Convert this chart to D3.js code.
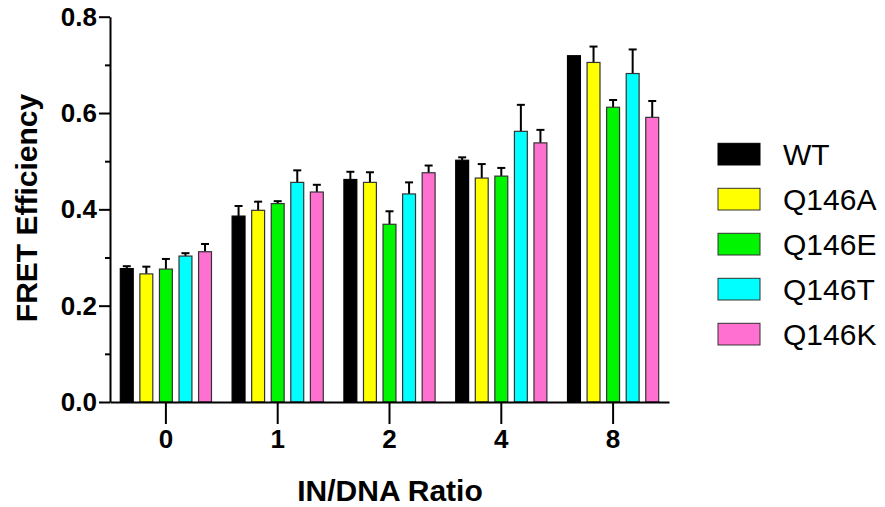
<!DOCTYPE html>
<html>
<head>
<meta charset="utf-8">
<script src="https://cdn.jsdelivr.net/npm/d3@7"></script>
<style>
  body { margin: 0; background: #fff; }
  svg { display: block; font-family: "Liberation Sans", Arial, sans-serif; }
</style>
</head>
<body>
<svg id="chart" width="885" height="507"></svg>
<script>
const ratios = ["0", "1", "2", "4", "8"];
const variants = ["WT", "Q146A", "Q146E", "Q146T", "Q146K"];
const colors = ["#000000", "#ffff00", "#00f500", "#00ffff", "#ff70d0"];

// mean FRET efficiency per variant, one value per IN/DNA ratio
const wtMean    = [0.277, 0.386, 0.462, 0.502, 0.719];
const q146aMean = [0.266, 0.398, 0.456, 0.465, 0.705];
const q146eMean = [0.276, 0.412, 0.369, 0.469, 0.612];
const q146tMean = [0.303, 0.456, 0.432, 0.562, 0.682];
const q146kMean = [0.312, 0.436, 0.476, 0.538, 0.591];

// upper error (SD) per variant
const wtErr    = [0.005, 0.021, 0.016, 0.006, 0.0];
const q146aErr = [0.015, 0.018, 0.021, 0.029, 0.033];
const q146eErr = [0.021, 0.005, 0.027, 0.017, 0.015];
const q146tErr = [0.006, 0.025, 0.024, 0.055, 0.050];
const q146kErr = [0.016, 0.015, 0.015, 0.027, 0.034];

const yMajor = [0, 0.2, 0.4, 0.6, 0.8];
const yMinor = [0.1, 0.3, 0.5, 0.7];

const means = [wtMean, q146aMean, q146eMean, q146tMean, q146kMean];
const errs = [wtErr, q146aErr, q146eErr, q146tErr, q146kErr];

const rows = [];
ratios.forEach((r, gi) => {
    variants.forEach((v, si) => {
        rows.push({ ratio: r, variant: v, color: colors[si], mean: means[si][gi], err: errs[si][gi] });
    });
});

const svg = d3.select("#chart");
const plotLeft = 110, plotRight = 669, plotTop = 16.7, plotBottom = 402;

const x0 = d3.scaleBand().domain(ratios).range([plotLeft, plotRight]).padding(0);
const x1 = d3.scaleBand().domain(variants).range([0, x0.bandwidth()]).paddingInner(0.34).paddingOuter(0.527);
const y = d3.scaleLinear().domain([0, 0.8]).range([plotBottom, plotTop]);

// minor y ticks
svg.append("g").attr("transform", `translate(${plotLeft},0)`)
    .call(d3.axisLeft(y).tickValues(yMinor).tickSize(5).tickFormat(""))
    .call(g => g.select(".domain").remove())
    .call(g => g.selectAll("line").attr("stroke", "#000").attr("stroke-width", 2));

// major y axis
svg.append("g").attr("transform", `translate(${plotLeft},0)`)
    .call(d3.axisLeft(y).tickValues(yMajor).tickSize(11).tickSizeOuter(0).tickPadding(2).tickFormat(d3.format(".1f")))
    .call(g => g.select(".domain").attr("stroke", "#000").attr("stroke-width", 2))
    .call(g => g.selectAll("line").attr("stroke", "#000").attr("stroke-width", 2))
    .call(g => g.selectAll("text").attr("fill", "#000").style("font-size", "26px").style("font-weight", "bold").style("font-family", "'Liberation Sans', Arial, sans-serif"));

// error bars
const eb = svg.append("g").selectAll("g").data(rows.filter(d => d.err > 0)).join("g")
    .attr("transform", d => `translate(${x0(d.ratio) + x1(d.variant) + x1.bandwidth() / 2},0)`);
eb.append("line").attr("x1", 0).attr("x2", 0).attr("y1", d => y(d.mean)).attr("y2", d => y(d.mean + d.err))
    .attr("stroke", "#000").attr("stroke-width", 2);
eb.append("line").attr("x1", -4).attr("x2", 4).attr("y1", d => y(d.mean + d.err)).attr("y2", d => y(d.mean + d.err))
    .attr("stroke", "#000").attr("stroke-width", 2);

// bars
svg.append("g").selectAll("rect").data(rows).join("rect")
    .attr("x", d => x0(d.ratio) + x1(d.variant))
    .attr("y", d => y(d.mean))
    .attr("width", x1.bandwidth())
    .attr("height", d => y(0) - y(d.mean))
    .attr("fill", d => d.color)
    .attr("stroke", d => d.variant === "WT" ? "#000" : "#333")
    .attr("stroke-width", 1.2);

// x axis
svg.append("g").attr("transform", `translate(0,${plotBottom})`)
    .call(d3.axisBottom(x0).tickSize(22).tickSizeOuter(0).tickPadding(6))
    .call(g => g.select(".domain").attr("stroke", "#000").attr("stroke-width", 2))
    .call(g => g.selectAll("line").attr("stroke", "#000").attr("stroke-width", 2))
    .call(g => g.selectAll("text").attr("fill", "#000").style("font-size", "26px").style("font-weight", "bold").style("font-family", "'Liberation Sans', Arial, sans-serif"));

// axis titles
svg.append("text").attr("x", 390).attr("y", 501).attr("text-anchor", "middle")
    .style("font-size", "30px").style("font-weight", "bold").text("IN/DNA Ratio");
svg.append("text").attr("transform", "translate(37,208) rotate(-90)").attr("text-anchor", "middle")
    .style("font-size", "30px").style("font-weight", "bold").text("FRET Efficiency");

// legend
const leg = svg.append("g").selectAll("g").data(variants).join("g")
    .attr("transform", (d, i) => `translate(718,${143.3 + i * 45})`);
leg.append("rect").attr("width", 42).attr("height", 21.7)
    .attr("fill", (d, i) => colors[i]).attr("stroke", (d, i) => i === 0 ? "#000" : "#333").attr("stroke-width", 1);
leg.append("text").attr("x", 65).attr("y", 21.7).style("font-size", "30px").attr("fill", "#000").text(d => d);
</script>
</body>
</html>
